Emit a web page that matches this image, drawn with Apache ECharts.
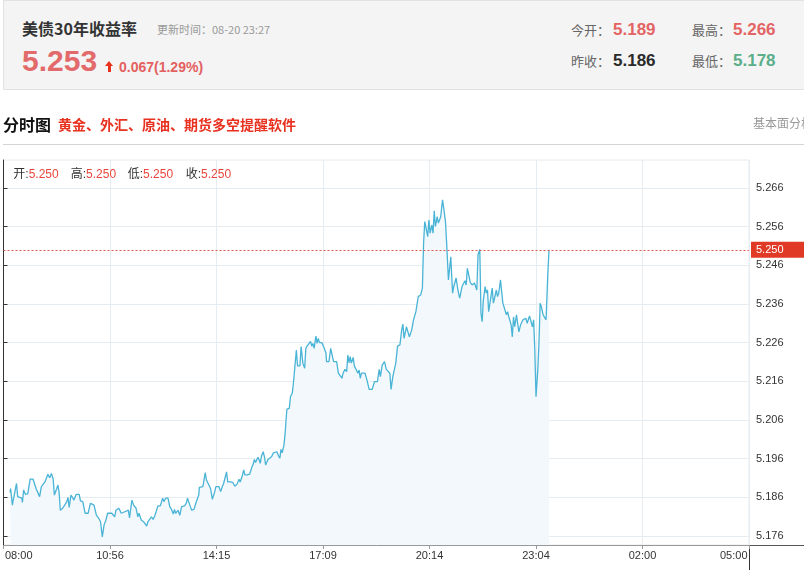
<!DOCTYPE html>
<html><head><meta charset="utf-8">
<script src="https://cdn.jsdelivr.net/npm/echarts@6/dist/echarts.min.js"></script>
<style>
html,body{margin:0;padding:0;width:804px;height:570px;overflow:hidden;background:#fff;}
.t{position:absolute;white-space:nowrap;}
.cj{font-family:"Noto Sans CJK SC",sans-serif;}
.ls{font-family:"Liberation Sans","Noto Sans CJK SC",sans-serif;}
#chart{position:absolute;left:0;top:0;width:804px;height:570px;}
</style></head>
<body>
<div id="chart"></div>
<div style="position:absolute;left:3px;top:0;width:830px;height:90px;background:#f4f4f4;border:1px solid #e2e2e2;box-sizing:border-box"></div>
<div class="t cj" style="left:22px;top:19.5px;font-size:16px;line-height:16px;font-weight:bold;color:#333">美债30年收益率</div>
<div class="t cj" style="left:157px;top:24px;font-size:11px;line-height:11px;color:#999">更新时间：08-20 23:27</div>
<div class="t ls" style="left:22px;top:46.3px;font-size:30px;line-height:30px;font-weight:bold;color:#e36a6a">5.253</div>
<div style="position:absolute;left:105px;top:61px;width:0;height:0;border-left:4px solid transparent;border-right:4px solid transparent;border-bottom:5px solid #e8321e"></div>
<div style="position:absolute;left:107.5px;top:66px;width:3px;height:6px;background:#e8321e"></div>
<div class="t ls" style="left:119px;top:59.8px;font-size:14px;line-height:14px;font-weight:bold;color:#e36060">0.067(1.29%)</div>
<div class="t cj" style="left:571px;top:22.8px;font-size:13px;line-height:13px;color:#666">今开：</div>
<div class="t ls" style="left:613px;top:21.4px;font-size:17px;line-height:17px;font-weight:bold;color:#e36464">5.189</div>
<div class="t cj" style="left:692px;top:22.8px;font-size:13px;line-height:13px;color:#666">最高：</div>
<div class="t ls" style="left:733px;top:21.4px;font-size:17px;line-height:17px;font-weight:bold;color:#e36464">5.266</div>
<div class="t cj" style="left:571px;top:53.8px;font-size:13px;line-height:13px;color:#666">昨收：</div>
<div class="t ls" style="left:613px;top:51.7px;font-size:17px;line-height:17px;font-weight:bold;color:#2a2a2a">5.186</div>
<div class="t cj" style="left:692px;top:53.8px;font-size:13px;line-height:13px;color:#666">最低：</div>
<div class="t ls" style="left:733px;top:51.7px;font-size:17px;line-height:17px;font-weight:bold;color:#5aae8a">5.178</div>
<div class="t cj" style="left:3px;top:116px;font-size:16px;line-height:16px;font-weight:bold;color:#111">分时图</div>
<div class="t cj" style="left:58px;top:116.7px;font-size:14px;line-height:14px;font-weight:bold;color:#e8311f">黄金、外汇、原油、期货多空提醒软件</div>
<div class="t cj" style="left:753px;top:117.3px;font-size:12px;line-height:12px;color:#999">基本面分析</div>
<div style="position:absolute;left:3px;top:143.5px;width:820px;height:1px;background:#d4d4d4"></div>
<div class="t ls" style="left:13.3px;top:168px;font-size:12px;line-height:12px;color:#333">开:<span style="color:#e8463c">5.250</span></div>
<div class="t ls" style="left:70.7px;top:168px;font-size:12px;line-height:12px;color:#333">高:<span style="color:#e8463c">5.250</span></div>
<div class="t ls" style="left:127.7px;top:168px;font-size:12px;line-height:12px;color:#333">低:<span style="color:#e8463c">5.250</span></div>
<div class="t ls" style="left:185.7px;top:168px;font-size:12px;line-height:12px;color:#333">收:<span style="color:#e8463c">5.250</span></div>
<script>
// x positions: display-axis minutes from 08:00 (axis spans 0..1260)
const timeSlots = [
11,12,15,16,19,22,24,27,31,32,34,37,41,45,50,55,58,61,64,67,70,73,75,78,81,84,86,90,92,94,96,100,103,107,109,111,114,117,119,123,128,130,134,138,143,147,150,153,157,161,164,167,170,173,176,183,188,190,193,195,199,201,205,208,211,213,217,220,224,227,229,
233,237,242,244,247,250,253,256,259,261,265,269,271,274,278,281,284,287,289,291,295,298,301,306,309,311,315,318,322,325,330,331,337,341,343,346,350,353,357,359,364,367,370,372,375,377,379,384,388,391,395,398,400,404,406,408,412,416,420,422,424,426,430,432,434,436,439,441,443,447,450,453,456,459,462,465,467,469,471,474,476,478,
479,483,485,488,490,493,495,497,501,503,506,509,511,513,516,519,521,523,525,528,530,532,534,538,541,545,546,550,553,556,558,563,566,569,572,574,577,580,582,584,586,588,591,593,596,599,601,603,605,611,614,618,623,627,632,635,637,640,644,647,650,653,655,658,663,666,670,673,675,677,681,684,686,
690,693,697,699,701,705,708,710,712,715,717,719,721,724,726,728,730,733,735,737,739,742,744,747,749,752,754,756,759,761,763,765,768,771,773,775,778,780,782,784,787,789,792,796,798,800,802,805,807,809,811,814,816,818,820,823,826,828,830,833,835,837,840,842,844,847,850,852,854,858,860,862,864,867,869,871,874,876,878,880,883,885,887,889,891,894,896,898,900,903,905,907,909,912,915,917,920,922
];
const yields = [
5.1873,5.1883,5.1840,5.1849,5.1845,5.1896,5.1862,5.1859,5.1858,5.1847,5.1879,5.1868,5.1869,5.1907,5.1907,5.1883,5.1888,5.1862,5.1888,5.1883,5.1900,5.1896,5.1920,5.1911,5.1922,5.1907,5.1866,5.1883,5.1892,5.1873,5.1827,5.1832,5.1827,5.1849,5.1860,5.1834,5.1866,5.1859,5.1853,5.1868,5.1868,5.1851,5.1849,5.1819,5.1819,5.1845,5.1849,5.1840,5.1814,5.1806,5.1797,5.1758,5.1789,5.1801,5.1819,5.1819,5.1810,5.1827,5.1823,5.1832,5.1819,5.1819,5.1823,5.1819,5.1827,5.1807,5.1853,5.1840,5.1832,5.1810,5.1819,
5.1801,5.1797,5.1786,5.1797,5.1793,5.1810,5.1803,5.1814,5.1810,5.1838,5.1838,5.1858,5.1849,5.1858,5.1858,5.1836,5.1829,5.1817,5.1829,5.1819,5.1827,5.1814,5.1836,5.1838,5.1845,5.1858,5.1840,5.1827,5.1829,5.1845,5.1866,5.1886,5.1888,5.1924,5.1905,5.1907,5.1883,5.1855,5.1875,5.1888,5.1888,5.1875,5.1889,5.1896,5.1900,5.1926,5.1900,5.1900,5.1898,5.1889,5.1895,5.1907,5.1900,5.1918,5.1931,5.1918,5.1918,5.1920,5.1939,5.1946,5.1958,5.1950,5.1964,5.1957,5.1948,5.1967,5.1978,5.1965,5.1944,5.1958,5.1958,5.1965,5.1975,5.1978,5.1978,5.1967,5.1961,5.1984,5.1975,5.1995,5.2026,5.2069,
5.2088,5.2090,5.2120,5.2129,5.2155,5.2207,5.2241,5.2200,5.2200,5.2250,5.2207,5.2194,5.2245,5.2251,5.2251,5.2263,5.2251,5.2258,5.2245,5.2277,5.2258,5.2271,5.2260,5.2260,5.2250,5.2233,5.2211,5.2211,5.2245,5.2224,5.2211,5.2211,5.2181,5.2176,5.2168,5.2181,5.2191,5.2185,5.2228,5.2208,5.2224,5.2207,5.2222,5.2200,5.2198,5.2181,5.2189,5.2168,5.2181,5.2181,5.2165,5.2139,5.2139,5.2159,5.2159,5.2191,5.2172,5.2202,5.2211,5.2191,5.2191,5.2181,5.2139,5.2172,5.2207,5.2251,5.2254,5.2293,5.2308,5.2271,5.2301,5.2301,5.2275,
5.2293,5.2319,5.2340,5.2336,5.2379,5.2383,5.2401,5.2517,5.2573,5.2573,5.2534,5.2577,5.2543,5.2564,5.2543,5.2601,5.2560,5.2586,5.2569,5.2577,5.2586,5.2629,5.2608,5.2573,5.2517,5.2422,5.2422,5.2482,5.2388,5.2405,5.2401,5.2427,5.2396,5.2375,5.2372,5.2405,5.2414,5.2420,5.2409,5.2452,5.2452,5.2415,5.2409,5.2414,5.2405,5.2396,5.2487,5.2501,5.2336,5.2314,5.2370,5.2405,5.2388,5.2396,5.2340,5.2344,5.2401,5.2362,5.2375,5.2396,5.2379,5.2388,5.2422,5.2418,5.2362,5.2362,5.2332,5.2340,5.2327,5.2306,5.2275,5.2327,5.2301,5.2332,5.2327,5.2288,5.2306,5.2310,5.2319,5.2314,5.2323,5.2310,5.2319,5.2329,5.2327,5.2301,5.2319,5.2241,5.2120,5.2189,5.2258,5.2362,5.2353,5.2332,5.2332,5.2319,5.2439,5.2500
];
const xTickLabels = ['08:00','10:56','14:15','17:09','20:14','23:04','02:00','05:00'];
const yTickValues = [5.176,5.186,5.196,5.206,5.216,5.226,5.236,5.246,5.256,5.266];
const yMin = 5.1737, yMax = 5.2732;
const lastPrice = 5.250;

const chart = echarts.init(document.getElementById('chart'));
const gridColor = '#e5ecf2';
chart.setOption({
  animation: false,
  grid: {left: 3.5, right: 55, top: 160, bottom: 25, show: true, borderColor: gridColor, borderWidth: 1},
  xAxis: {
    type: 'value', min: 0, max: 1260, interval: 180,
    axisLine: {show: true, lineStyle: {color: '#999'}},
    axisTick: {show: true, length: 4, lineStyle: {color: '#999'}},
    axisLabel: {
      color: '#333', fontSize: 11, margin: 5, fontFamily: 'Liberation Sans',
      formatter: function (v) {
        const i = Math.round(v / 180);
        const s = xTickLabels[i];
        if (i === 0) return '{l|' + s + '}';
        if (i === xTickLabels.length - 1) return '{r|' + s + '}';
        return s;
      },
      rich: {
        l: {width: 58, align: 'right', fontSize: 11, color: '#333', fontFamily: 'Liberation Sans'},
        r: {width: 58, align: 'left', fontSize: 11, color: '#333', fontFamily: 'Liberation Sans'}
      }
    },
    splitLine: {show: true, lineStyle: {color: gridColor}}
  },
  yAxis: {
    type: 'value', position: 'right', min: yMin, max: yMax,
    axisLine: {show: true, lineStyle: {color: '#333'}},
    axisTick: {show: true, length: 4, customValues: yTickValues, lineStyle: {color: '#333'}},
    axisLabel: {customValues: yTickValues, color: '#333', fontSize: 11, margin: 7, fontFamily: 'Liberation Sans',
      formatter: function (v) { return v.toFixed(3); }},
    splitLine: {show: true, lineStyle: {color: gridColor}}
  },
  series: [{
    type: 'line',
    data: timeSlots.map(function (t, i) { return [t, yields[i]]; }),
    showSymbol: false, symbol: 'none',
    lineStyle: {color: '#4ab4d6', width: 1.3},
    itemStyle: {color: '#4ab4d6'},
    areaStyle: {color: '#f3f8fc', opacity: 1},
    markLine: {
      silent: true, symbol: 'none', animation: false,
      data: [{yAxis: lastPrice}],
      lineStyle: {color: '#e0574c', type: [2, 2], width: 1},
      label: {show: true, position: 'end', distance: 2, formatter: lastPrice.toFixed(3),
        color: '#fff', backgroundColor: '#e03a26', padding: [2, 22, 2, 5], fontSize: 11, lineHeight: 12, fontFamily: 'Liberation Sans'}
    }
  }],
  graphic: [
    {type: 'line', shape: {x1: 749, y1: 545.5, x2: 804, y2: 545.5}, style: {stroke: '#555', lineWidth: 1}},
    {type: 'line', shape: {x1: 749.5, y1: 545, x2: 749.5, y2: 570}, style: {stroke: '#333', lineWidth: 1}}
  ]
});
</script>
</body></html>
